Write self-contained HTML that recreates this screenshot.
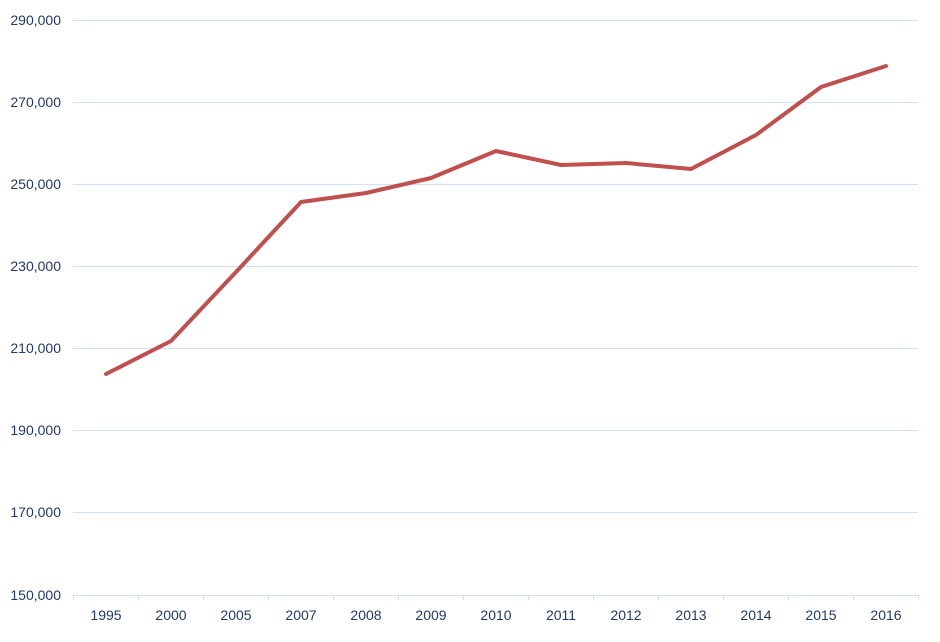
<!DOCTYPE html>
<html><head><style>body{margin:0;background:#fff}</style></head><body>
<svg width="940" height="637" xmlns="http://www.w3.org/2000/svg" font-family="Liberation Sans, sans-serif" font-size="14" fill="#1f3a68">
<g stroke="#d3e0ef" stroke-width="1">
<line x1="73" y1="20.5" x2="918" y2="20.5"/>
<line x1="73" y1="102.5" x2="918" y2="102.5"/>
<line x1="73" y1="184.5" x2="918" y2="184.5"/>
<line x1="73" y1="266.5" x2="918" y2="266.5"/>
<line x1="73" y1="348.5" x2="918" y2="348.5"/>
<line x1="73" y1="430.5" x2="918" y2="430.5"/>
<line x1="73" y1="512.5" x2="918" y2="512.5"/>
<line x1="73" y1="595.5" x2="918" y2="595.5"/>
<line x1="73.5" y1="595" x2="73.5" y2="600"/><line x1="138.5" y1="595" x2="138.5" y2="600"/><line x1="203.5" y1="595" x2="203.5" y2="600"/><line x1="268.5" y1="595" x2="268.5" y2="600"/><line x1="333.5" y1="595" x2="333.5" y2="600"/><line x1="398.5" y1="595" x2="398.5" y2="600"/><line x1="463.5" y1="595" x2="463.5" y2="600"/><line x1="528.5" y1="595" x2="528.5" y2="600"/><line x1="593.5" y1="595" x2="593.5" y2="600"/><line x1="658.5" y1="595" x2="658.5" y2="600"/><line x1="723.5" y1="595" x2="723.5" y2="600"/><line x1="788.5" y1="595" x2="788.5" y2="600"/><line x1="853.5" y1="595" x2="853.5" y2="600"/><line x1="918.5" y1="595" x2="918.5" y2="600"/>
</g>
<g text-anchor="end">
<text x="61" y="25">290,000</text><text x="61" y="107">270,000</text><text x="61" y="189">250,000</text><text x="61" y="271">230,000</text><text x="61" y="353">210,000</text><text x="61" y="435">190,000</text><text x="61" y="517">170,000</text><text x="61" y="600">150,000</text>
</g>
<g text-anchor="middle">
<text x="106" y="620">1995</text><text x="171" y="620">2000</text><text x="236" y="620">2005</text><text x="301" y="620">2007</text><text x="366" y="620">2008</text><text x="431" y="620">2009</text><text x="496" y="620">2010</text><text x="561" y="620">2011</text><text x="626" y="620">2012</text><text x="691" y="620">2013</text><text x="756" y="620">2014</text><text x="821" y="620">2015</text><text x="886" y="620">2016</text>
</g>
<polyline fill="none" stroke="#c0504d" stroke-width="4" stroke-linejoin="round" stroke-linecap="round" points="106,374 171,341 236,272 301,202 366,193 431,178 496,151 561,165 626,163 691,169 756,135 821,87 886,66"/>
</svg>
</body></html>
